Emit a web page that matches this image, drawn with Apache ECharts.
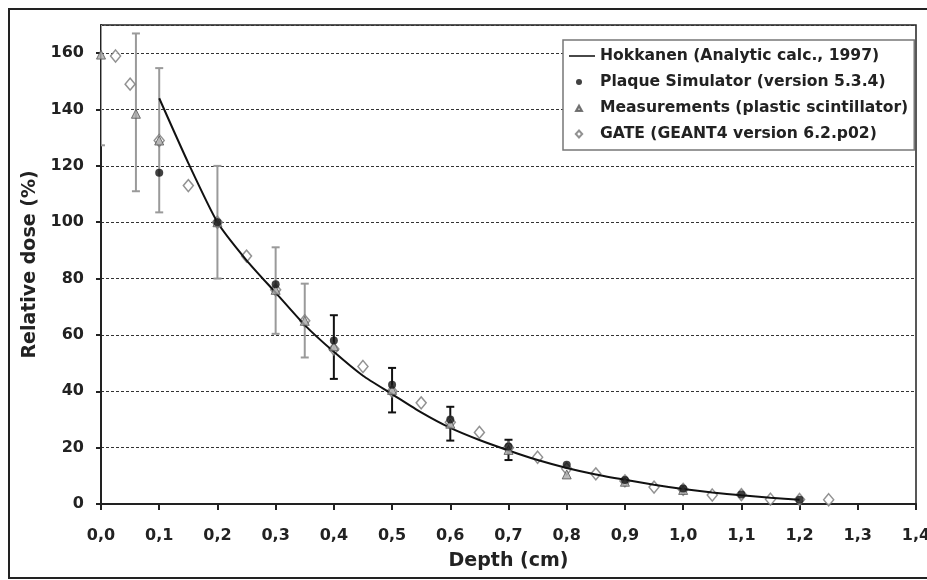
<!DOCTYPE html>
<html>
<head>
<meta charset="utf-8">
<script src="https://cdn.jsdelivr.net/npm/echarts@6/dist/echarts.min.js"></script>
<style>html,body{margin:0;padding:0;background:#fff;}#chart{width:927px;height:580px;}</style>
</head>
<body>
<div id="chart"></div>
<script>
// ---- data ----
const xTickLabels = ['0,0','0,1','0,2','0,3','0,4','0,5','0,6','0,7','0,8','0,9','1,0','1,1','1,2','1,3','1,4'];
const yTickLabels = ['0','20','40','60','80','100','120','140','160'];

const seriesNames = ['Hokkanen (Analytic calc., 1997)','Plaque Simulator (version 5.3.4)','Measurements (plastic scintillator)','GATE (GEANT4 version 6.2.p02)'];

const hokkanenDepth = [0.10,0.15,0.20,0.25,0.30,0.35,0.40,0.45,0.50,0.55,0.60,0.65,0.70,0.75,0.80,0.85,0.90,0.95,1.00,1.05,1.10,1.15,1.20];
const hokkanenDose  = [144,121,100,86.5,75,63.5,54,45.5,39,32.5,27,22.7,19,15.6,12.8,10.5,8.6,6.8,5.3,4.1,3.1,2.2,1.5];

const plaqueDepth = [0.1,0.2,0.3,0.4,0.5,0.6,0.7,0.8,0.9,1.0,1.1,1.2];
const plaqueDose  = [117.6,100,78,58,42.3,30,20.4,13.9,8.5,5.5,3.4,1.5];

const measDepth = [0.0,0.06,0.1,0.2,0.3,0.35,0.4,0.5,0.6,0.7,0.8,0.9,1.0];
const measDose  = [159.5,138.5,129,100,76,65,56,40.5,28.5,19.2,10.5,7.9,5.0];

// error bars (two groups: grey ones near the surface, black ones deeper)
const errGreyDepth = [0.0,0.06,0.1,0.2,0.3,0.35];
const errGreyLow   = [127.3,111,103.5,80,60.4,52];
const errGreyHigh  = [192,167,154.7,120,91.1,78.2];
const errBlackDepth = [0.4,0.5,0.6,0.7];
const errBlackLow   = [44.4,32.5,22.5,15.6];
const errBlackHigh  = [67,48.3,34.5,22.8];

const gateDepth = [0.025,0.05,0.1,0.15,0.2,0.25,0.3,0.35,0.4,0.45,0.5,0.55,0.6,0.65,0.7,0.75,0.8,0.85,0.9,0.95,1.0,1.05,1.1,1.15,1.2,1.25];
const gateDose  = [159,149,129,113,100,88,76,65,55,48.8,40,35.9,29,25.4,20,16.6,12.5,10.7,8.2,6.0,5.2,3.2,3.3,1.7,1.6,1.5];

// ---- build ----
const zip = (a, b) => a.map((v, i) => [v, b[i]]);
const zip3 = (a, b, c) => a.map((v, i) => [v, b[i], c[i]]);
const FONT = "'DejaVu Sans', 'Liberation Sans', Arial, sans-serif";

function errRender(color) {
  return function (params, api) {
    const x = api.value(0), lo = api.value(1), hi = api.value(2);
    const p1 = api.coord([x, lo]), p2 = api.coord([x, hi]);
    const w = 4;
    const st = { stroke: color, lineWidth: 2 };
    return {
      type: 'group',
      children: [
        { type: 'line', shape: { x1: p1[0], y1: p1[1], x2: p2[0], y2: p2[1] }, style: st },
        { type: 'line', shape: { x1: p1[0] - w, y1: p1[1], x2: p1[0] + w, y2: p1[1] }, style: st },
        { type: 'line', shape: { x1: p2[0] - w, y1: p2[1], x2: p2[0] + w, y2: p2[1] }, style: st }
      ]
    };
  };
}

// legend icons: each path spans the full 26x8 icon box so nothing gets stretched
const ICON_BOX = 'M0,0M26,8';
const legendIcons = [
  'path://' + ICON_BOX + 'M0,3.2H27V4.8H0Z',
  'path://' + ICON_BOX + 'M13,4A3,3 0 1,0 7,4A3,3 0 1,0 13,4Z',
  'path://' + ICON_BOX + 'M7,7L10,1.5L13,7Z',
  'path://' + ICON_BOX + 'M10,0.5L13.2,4L10,7.5L6.8,4Z'
];

const chart = echarts.init(document.getElementById('chart'), null, { renderer: 'canvas' });
chart.setOption({
  animation: false,
  backgroundColor: '#fff',
  textStyle: { fontFamily: FONT },
  graphic: [{
    type: 'rect', z: 100, silent: true,
    shape: { x: 9, y: 9, width: 940, height: 569 },
    style: { fill: 'none', stroke: '#222', lineWidth: 2 }
  }],
  grid: {
    left: 101, right: 11, top: 25, bottom: 76,
    outerBoundsMode: 'none', containLabel: false,
    show: true, borderColor: '#222', borderWidth: 1.5, backgroundColor: 'transparent'
  },
  legend: {
    orient: 'vertical', left: 563, top: 40,
    backgroundColor: '#fff', borderColor: '#777', borderWidth: 1.5,
    padding: [8, 6, 8, 5], itemGap: 10, itemWidth: 26, itemHeight: 8,
    textStyle: { fontFamily: FONT, fontWeight: 'bold', fontSize: 15.6, color: '#222' },
    data: seriesNames.map((n, i) => ({ name: n, icon: legendIcons[i] }))
  },
  xAxis: {
    type: 'value', min: 0, max: 1.4, interval: 0.1,
    name: 'Depth (cm)', nameLocation: 'middle', nameGap: 48,
    nameTextStyle: { fontFamily: FONT, fontWeight: 'bold', fontSize: 19, color: '#222' },
    axisLine: { show: true, onZero: false, lineStyle: { color: '#222', width: 2 } },
    axisTick: { show: true, length: 6, lineStyle: { color: '#222', width: 2 } },
    axisLabel: {
      margin: 24, fontFamily: FONT, fontWeight: 'bold', fontSize: 16, color: '#222',
      formatter: v => xTickLabels[Math.round(v * 10)]
    },
    splitLine: { show: false }
  },
  yAxis: {
    type: 'value', min: 0, max: 170, interval: 20,
    name: 'Relative dose (%)', nameLocation: 'middle', nameGap: 58,
    nameTextStyle: { fontFamily: FONT, fontWeight: 'bold', fontSize: 19, color: '#222' },
    axisLine: { show: true, lineStyle: { color: '#222', width: 2 } },
    axisTick: { show: true, length: 5, lineStyle: { color: '#222', width: 2 } },
    axisLabel: {
      margin: 17, fontFamily: FONT, fontWeight: 'bold', fontSize: 16, color: '#222',
      showMaxLabel: false,
      formatter: v => { const i = Math.round(v / 20); return (v % 20 === 0 && yTickLabels[i] !== undefined) ? yTickLabels[i] : ''; }
    },
    splitLine: { show: true, lineStyle: { color: '#333', width: 1, type: [3, 2] } }
  },
  series: [
    {
      name: 'errGrey', type: 'custom', clip: true, z: 2,
      renderItem: errRender('#9a9a9a'),
      encode: { x: 0, y: [1, 2] },
      data: zip3(errGreyDepth, errGreyLow, errGreyHigh)
    },
    {
      name: 'errBlack', type: 'custom', clip: true, z: 2,
      renderItem: errRender('#111'),
      encode: { x: 0, y: [1, 2] },
      data: zip3(errBlackDepth, errBlackLow, errBlackHigh)
    },
    {
      name: seriesNames[3], type: 'scatter', z: 3,
      symbol: 'diamond', symbolSize: [10, 12],
      itemStyle: { color: '#fff', borderColor: '#777', borderWidth: 1.5 },
      data: zip(gateDepth, gateDose)
    },
    {
      name: seriesNames[0], type: 'line', z: 4,
      symbol: 'none', showSymbol: false, smooth: 0.2,
      lineStyle: { color: '#111', width: 2 },
      itemStyle: { color: '#111' },
      data: zip(hokkanenDepth, hokkanenDose)
    },
    {
      name: seriesNames[2], type: 'scatter', z: 5,
      symbol: 'triangle', symbolSize: 9,
      itemStyle: { color: '#aaa', borderColor: '#555', borderWidth: 1 },
      data: zip(measDepth, measDose)
    },
    {
      name: seriesNames[1], type: 'scatter', z: 6,
      symbol: 'circle', symbolSize: 8,
      itemStyle: { color: '#111' },
      data: zip(plaqueDepth, plaqueDose)
    }
  ]
});
</script>
</body>
</html>
